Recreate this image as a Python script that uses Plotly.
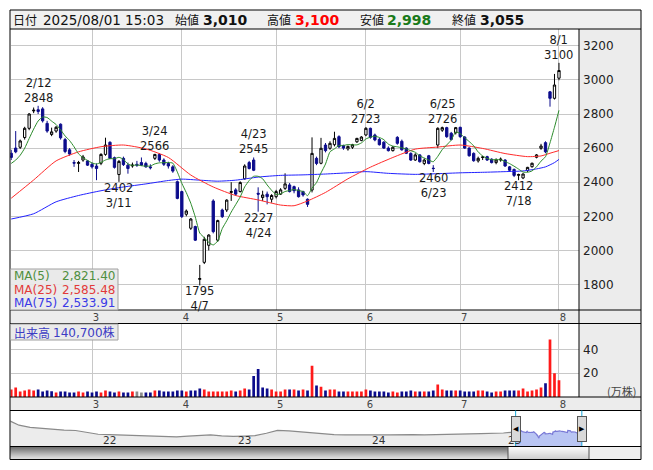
import plotly.graph_objects as go
import pandas as pd

# ---------------- data ----------------
holidays = ["2025-02-11", "2025-02-24", "2025-03-20", "2025-04-29",
            "2025-05-05", "2025-05-06", "2025-07-21"]
dates = [d.strftime("%Y-%m-%d") for d in pd.bdate_range("2025-02-03", "2025-08-01")
         if d.strftime("%Y-%m-%d") not in holidays]

opens = [2570, 2600, 2605, 2662, 2716, 2818, 2825, 2830, 2745, 2680,
         2700, 2740, 2650, 2590, 2515, 2510, 2530, 2525, 2505, 2495,
         2511, 2563, 2634, 2544, 2445, 2540, 2500, 2495, 2505, 2515,
         2510, 2490, 2540, 2562, 2530, 2510, 2490, 2403, 2345, 2212,
         2130, 2140, 1830, 1930, 2030, 2290, 2060, 2237, 2237, 2340,
         2355, 2345, 2420, 2515, 2530, 2335, 2310, 2330, 2300, 2315,
         2330, 2364, 2384, 2374, 2355, 2345, 2300, 2354, 2540, 2511,
         2618, 2599, 2620, 2667, 2615, 2595, 2605, 2637, 2645, 2677,
         2716, 2677, 2651, 2635, 2600, 2585, 2663, 2640, 2600, 2569,
         2530, 2560, 2510, 2555, 2482, 2618, 2705, 2720, 2687, 2690,
         2722, 2665, 2600, 2569, 2525, 2545, 2550, 2535, 2515, 2530,
         2530, 2490, 2475, 2440, 2425, 2468, 2491, 2546, 2599, 2632,
         2930, 2892, 3010]
highs = [2590, 2700, 2650, 2725, 2805, 2838, 2848, 2840, 2760, 2720,
         2730, 2745, 2660, 2600, 2530, 2525, 2560, 2530, 2515, 2510,
         2570, 2661, 2640, 2550, 2530, 2550, 2515, 2515, 2525, 2545,
         2520, 2505, 2566, 2570, 2540, 2520, 2500, 2410, 2350, 2240,
         2190, 2145, 1915, 2080, 2095, 2300, 2180, 2245, 2300, 2400,
         2365, 2405, 2505, 2525, 2545, 2370, 2350, 2345, 2330, 2355,
         2365, 2452, 2395, 2380, 2370, 2350, 2305, 2663, 2550, 2660,
         2630, 2640, 2696, 2675, 2620, 2615, 2625, 2660, 2670, 2723,
         2720, 2685, 2660, 2640, 2610, 2612, 2670, 2650, 2605, 2575,
         2570, 2565, 2540, 2560, 2500, 2722, 2726, 2725, 2695, 2724,
         2725, 2670, 2605, 2575, 2550, 2555, 2555, 2540, 2540, 2545,
         2535, 2495, 2480, 2450, 2452, 2490, 2515, 2565, 2625, 2640,
         2935, 3035, 3100]
lows = [2530, 2570, 2595, 2650, 2705, 2805, 2800, 2750, 2690, 2670,
        2690, 2650, 2570, 2555, 2490, 2460, 2520, 2495, 2480, 2412,
        2500, 2555, 2535, 2480, 2402, 2495, 2450, 2485, 2490, 2495,
        2485, 2475, 2530, 2520, 2495, 2480, 2455, 2300, 2190, 2200,
        2120, 2055, 1795, 1920, 2000, 2100, 2050, 2190, 2225, 2290,
        2320, 2340, 2415, 2475, 2465, 2227, 2290, 2270, 2280, 2305,
        2325, 2355, 2340, 2335, 2310, 2315, 2255, 2340, 2500, 2505,
        2575, 2590, 2610, 2600, 2590, 2585, 2595, 2630, 2640, 2670,
        2655, 2640, 2615, 2595, 2580, 2580, 2620, 2585, 2565, 2525,
        2525, 2515, 2500, 2505, 2460, 2600, 2695, 2660, 2645, 2680,
        2660, 2595, 2550, 2520, 2515, 2530, 2525, 2510, 2505, 2520,
        2490, 2460, 2430, 2412, 2418, 2460, 2485, 2540, 2590, 2570,
        2843, 2885, 2998]
closes = [2545, 2578, 2642, 2716, 2800, 2822, 2815, 2760, 2700, 2695,
          2722, 2660, 2580, 2565, 2512, 2515, 2548, 2500, 2490, 2480,
          2563, 2618, 2540, 2487, 2522, 2503, 2480, 2500, 2500, 2500,
          2490, 2485, 2563, 2530, 2505, 2495, 2465, 2305, 2198, 2231,
          2184, 2060, 1835, 2065, 2090, 2110, 2175, 2198, 2295, 2345,
          2330, 2398, 2495, 2480, 2470, 2330, 2325, 2315, 2322, 2345,
          2355, 2390, 2345, 2350, 2315, 2325, 2270, 2569, 2510, 2599,
          2585, 2628, 2657, 2608, 2600, 2610, 2620, 2657, 2665, 2716,
          2663, 2648, 2620, 2600, 2585, 2605, 2628, 2590, 2570, 2530,
          2560, 2520, 2530, 2510, 2480, 2716, 2720, 2667, 2651, 2720,
          2667, 2600, 2555, 2526, 2540, 2548, 2530, 2515, 2530, 2535,
          2495, 2470, 2440, 2445, 2448, 2487, 2511, 2560, 2612, 2578,
          2892, 2970, 3055]
volumes = [6.3, 8.0, 4.6, 5.5, 6.3, 5.5, 6.3, 4.6, 5.5, 4.9,
           3.7, 4.6, 4.6, 3.7, 3.7, 4.6, 3.7, 4.6, 3.7, 4.6,
           3.7, 5.5, 4.6, 3.7, 4.6, 3.7, 3.7, 4.6, 4.6, 3.7,
           3.7, 3.7, 5.5, 5.5, 4.6, 4.6, 4.6, 5.5, 5.5, 4.6,
           5.5, 5.5, 7.2, 6.3, 4.6, 4.6, 4.6, 4.6, 4.6, 5.5,
           4.6, 5.5, 7.2, 6.3, 17.8, 23.6, 8.0, 7.2, 6.3, 4.6,
           4.6, 6.3, 6.3, 6.3, 5.5, 6.3, 5.5, 26.4, 9.8, 8.6,
           5.5, 6.3, 6.3, 4.6, 4.6, 4.6, 4.6, 4.6, 4.6, 6.3,
           5.5, 4.6, 4.6, 4.6, 3.7, 4.6, 3.7, 4.6, 4.6, 5.5,
           4.6, 4.6, 4.6, 4.6, 5.5, 10.6, 6.3, 5.5, 5.5, 5.5,
           5.5, 4.6, 4.6, 4.6, 5.5, 5.5, 4.6, 3.7, 4.6, 4.6,
           5.5, 5.5, 5.5, 5.5, 7.2, 4.6, 5.5, 6.3, 8.0, 11.5,
           48.5, 20.0, 14.07]  # 万株
prior_closes = [2480, 2500, 2510, 2515]  # closes before the window (MA5 warm-up)

ma25_idx = [0, 5, 10, 15, 20, 25, 30, 35, 40, 45, 50, 55, 60, 63, 66, 70, 75,
            80, 85, 90, 95, 100, 105, 110, 115, 118, 120, 122]
ma25_val = [2306, 2413, 2525, 2578, 2608, 2618, 2595, 2545, 2442, 2372, 2322,
            2296, 2266, 2262, 2290, 2340, 2420, 2488, 2545, 2594, 2606, 2618,
            2598, 2568, 2550, 2554, 2570, 2585.48]
ma75_idx = [0, 5, 10, 15, 20, 25, 30, 35, 38, 42, 46, 50, 55, 60, 65, 70, 75,
            79, 84, 90, 95, 100, 105, 110, 114, 117, 119, 121, 122]
ma75_val = [2184, 2215, 2285, 2322, 2350, 2372, 2390, 2410, 2418, 2412, 2406,
            2412, 2430, 2440, 2443, 2448, 2455, 2462, 2452, 2446, 2450, 2455,
            2458, 2462, 2466, 2478, 2490, 2515, 2533.91]

nav_months = ["2021-05", "2021-06", "2021-07", "2021-08", "2021-09", "2021-10",
              "2021-11", "2021-12", "2022-01", "2022-02", "2022-03", "2022-04",
              "2022-05", "2022-06", "2022-07", "2022-08", "2022-09", "2022-10",
              "2022-11", "2022-12", "2023-01", "2023-02", "2023-03", "2023-04",
              "2023-05", "2023-06", "2023-07", "2023-08", "2023-09", "2023-10",
              "2023-11", "2023-12", "2024-01", "2024-02", "2024-03", "2024-04",
              "2024-05", "2024-06", "2024-07", "2024-08", "2024-09", "2024-10",
              "2024-11", "2024-12", "2025-01"]
nav_values = [3900, 3300, 3050, 2950, 2800, 2750, 2700, 2500, 2280, 2230, 2200,
              2160, 2130, 2100, 2040, 1990, 2080, 2160, 2210, 2100, 2040, 2070,
              2120, 2390, 2720, 2650, 2550, 2390, 2270, 2240, 2210, 2180, 2160,
              2200, 2220, 2270, 2240, 2215, 2260, 2240, 2280, 2330, 2360, 2380,
              2420]
nav_years = ["2022", "2023", "2024", "2025"]

peaks = ["2025-02-12", "2025-03-24", "2025-04-23", "2025-06-02", "2025-06-25", "2025-08-01"]
troughs = ["2025-03-11", "2025-04-07", "2025-04-24", "2025-06-23", "2025-07-18"]
quote_time = "15:03"

# ---------------- derived ----------------
n = len(dates)
idx = list(range(n))
ext = prior_closes + closes
ma5 = [sum(ext[i:i + 5]) / 5 for i in range(n)]
month_idx = [i for i in range(1, n) if dates[i][5:7] != dates[i - 1][5:7]]
month_txt = [str(int(dates[i][5:7])) for i in month_idx]
prev = [prior_closes[-1]] + closes[:-1]
vcol = ["#ff1a1a" if c > p else ("#0c0c8c" if c < p else "#8c8c8c") for c, p in zip(closes, prev)]

# ---------------- geometry (page pixels -> paper) ----------------
W, H = 637, 454
OX, OY = 8, 8


def px(x):
    return (x - OX) / W


def py(y):
    return 1 - (y - OY) / H


L, R, DIV = 10, 641, 579
FONT = "DejaVu Sans, Noto Sans CJK JP, sans-serif"
JFONT = "Noto Sans CJK JP, DejaVu Sans, sans-serif"
GRID = "#c8c8c8"
PANEL = "#ececec"

x_lo = (10.5 - 11.2) / 4.49
x_hi = (579 - 11.2) / 4.49

fig = go.Figure()
fig.add_trace(go.Candlestick(
    x=idx, open=opens, high=highs, low=lows, close=closes,
    increasing=dict(line=dict(color="#000000", width=1), fillcolor="#ffffff"),
    decreasing=dict(line=dict(color="#0c0c8c", width=1), fillcolor="#0c0c8c"),
    whiskerwidth=0, xaxis="x", yaxis="y", showlegend=False, hoverinfo="skip"))
fig.add_trace(go.Scatter(x=ma75_idx, y=ma75_val, mode="lines", line=dict(color="#2222ff", width=1, shape="spline", smoothing=0.6),
                         xaxis="x", yaxis="y", showlegend=False, hoverinfo="skip"))
fig.add_trace(go.Scatter(x=ma25_idx, y=ma25_val, mode="lines", line=dict(color="#ff2a2a", width=1, shape="spline", smoothing=0.6),
                         xaxis="x", yaxis="y", showlegend=False, hoverinfo="skip"))
fig.add_trace(go.Scatter(x=idx, y=ma5, mode="lines", line=dict(color="#2a8a2a", width=1, shape="spline", smoothing=0.5),
                         xaxis="x", yaxis="y", showlegend=False, hoverinfo="skip"))
fig.add_trace(go.Bar(x=idx, y=volumes, marker=dict(color=vcol, line=dict(width=0)), width=0.6,
                     xaxis="x2", yaxis="y2", showlegend=False, hoverinfo="skip"))

# navigator
nav_x_pre = [m + "-01" for m in nav_months] + [dates[0]]
nav_y_pre = nav_values + [closes[0]]
fig.add_trace(go.Scatter(x=nav_x_pre, y=nav_y_pre, mode="lines", line=dict(color="#8a8a8a", width=1.2),
                         fill="tozeroy", fillcolor="#ececec", xaxis="x3", yaxis="y3",
                         showlegend=False, hoverinfo="skip"))
fig.add_trace(go.Scatter(x=dates, y=closes, mode="lines", line=dict(color="#7a7ad6", width=1.2),
                         fill="tozeroy", fillcolor="#b9c5f3", xaxis="x3", yaxis="y3",
                         showlegend=False, hoverinfo="skip"))

shapes = []


def rect(x0, y0, x1, y1, fill=None, line=None, lw=1, layer="below"):
    shapes.append(dict(type="rect", xref="paper", yref="paper", x0=px(x0), x1=px(x1), y0=py(y1), y1=py(y0),
                       fillcolor=fill if fill else "rgba(0,0,0,0)",
                       line=dict(color=line if line else "rgba(0,0,0,0)", width=lw if line else 0), layer=layer))


def hline(y, x0=L, x1=R, color="#000", w=1):
    shapes.append(dict(type="line", xref="paper", yref="paper", x0=px(x0), x1=px(x1), y0=py(y), y1=py(y),
                       line=dict(color=color, width=w), layer="above"))


def vline(x, y0, y1, color="#000", w=1):
    shapes.append(dict(type="line", xref="paper", yref="paper", x0=px(x), x1=px(x), y0=py(y0), y1=py(y1),
                       line=dict(color=color, width=w), layer="above"))


# panels
rect(L, 10, R, 29, fill="#f0f0f0")
rect(DIV, 29, R, 310, fill=PANEL)
rect(L, 310, R, 323.5, fill=PANEL)
rect(DIV, 323.5, R, 397, fill=PANEL)
rect(L, 397, R, 410.5, fill=PANEL)
# scrollbar gradient
dark = ["#3a3a3a", "#464646", "#545454", "#626262", "#717171", "#808080", "#8e8e8e",
        "#9c9c9c", "#aaaaaa", "#b6b6b6", "#c2c2c2", "#cccccc", "#d4d4d4"]
light = ["#fbfbfb", "#f6f6f6", "#f1f1f1", "#ececec", "#e7e7e7", "#e2e2e2", "#dddddd",
         "#d8d8d8", "#d3d3d3", "#cecece", "#c9c9c9", "#c4c4c4", "#bfbfbf"]
for k in range(13):
    rect(L, 446.5 + k, 508, 447.5 + k, fill=dark[k], layer="above")
    rect(508, 446.5 + k, 589, 447.5 + k, fill=light[k], layer="above")
rect(589, 446.5, R, 459.5, fill="#eeeeee", layer="above")
rect(508, 446.5, 589, 459.5, line="#555555", layer="above")

# borders
rect(L, 10, R, 459.5, line="#000000", layer="above")
hline(29)
hline(310)
hline(323.5)
hline(397)
hline(410.5)
hline(446.5)
vline(DIV, 29, 310)
vline(DIV, 323.5, 397)
vline(DIV, 310, 323.5, color="#000")

# legend boxes
rect(10.5, 269, 118, 310, fill="rgba(232,232,232,0.92)", line="#a0a0a0", layer="above")
rect(10.5, 324, 118, 340, fill="rgba(232,232,232,0.92)", line="#a0a0a0", layer="above")

# navigator selection edges
for d in (dates[0], dates[-1]):
    shapes.append(dict(type="line", xref="x3", yref="paper", x0=d, x1=d, y0=py(446), y1=py(410.5),
                       line=dict(color="#19a7d8", width=1), layer="above"))

ann = []


def text(x, y, s, size=12, color="#222", xanchor="left", yanchor="middle", family=FONT, bold=False):
    ann.append(dict(xref="paper", yref="paper", x=px(x), y=py(y), text=("<b>%s</b>" % s) if bold else s,
                    showarrow=False, xanchor=xanchor, yanchor=yanchor,
                    font=dict(size=size, color=color, family=family)))


# header
last = n - 1
hy = 19.5
text(11, hy, "日付", 12, "#111", family=JFONT)
text(41, hy, dates[last].replace("-", "/") + " " + quote_time, 13.5, "#111")
text(173, hy, "始値", 12, "#111", family=JFONT)
text(201, hy, f"{opens[last]:,}", 14, "#111", bold=True)
text(265, hy, "高値", 12, "#111", family=JFONT)
text(293, hy, f"{highs[last]:,}", 14, "#ff0000", bold=True)
text(358, hy, "安値", 12, "#111", family=JFONT)
text(385, hy, f"{lows[last]:,}", 14, "#1a7a1a", bold=True)
text(450, hy, "終値", 12, "#111", family=JFONT)
text(478, hy, f"{closes[last]:,}", 14, "#111", bold=True)

# MA legend
rows = [("MA(5)", ma5[-1], "#4f8f3f"), ("MA(25)", ma25_val[-1], "#e23a3a"), ("MA(75)", ma75_val[-1], "#3a3ae6")]
for k, (lab, val, col) in enumerate(rows):
    yy = 275.7 + 13.8 * k
    text(11.5, yy, lab, 12, col)
    text(117.5, yy, f"{val:,.2f}", 12, col, xanchor="right")

# volume label
text(12, 332, "出来高", 12, "#3c3cc4", family=JFONT)
text(117.5, 332, f"{round(volumes[-1] * 10000):,}株", 12, "#3c3cc4", xanchor="right")
text(638, 390.5, "(万株)", 11, "#444", xanchor="right", family=JFONT)

# extremes
for d in peaks:
    i = dates.index(d)
    ann.append(dict(xref="x", yref="y", x=i, y=highs[i], yanchor="bottom", yshift=0, showarrow=False,
                    text=f"{int(d[5:7])}/{int(d[8:10])}<br>{highs[i]}", borderpad=0,
                    font=dict(size=11.5, color="#1a1a1a", family=FONT)))
for d in troughs:
    i = dates.index(d)
    ann.append(dict(xref="x", yref="y", x=i, y=lows[i], yanchor="top", yshift=2, showarrow=False,
                    text=f"{lows[i]}<br>{int(d[5:7])}/{int(d[8:10])}", borderpad=0,
                    font=dict(size=11.5, color="#1a1a1a", family=FONT)))

# navigator year labels
for yv in nav_years:
    ann.append(dict(xref="x3", yref="paper", x=yv + "-01-01", y=py(439.5), xshift=11, showarrow=False,
                    text=yv[2:], font=dict(size=10.5, color="#333", family=FONT), yanchor="middle"))
# navigator handles
for d, arrow in ((dates[0], "◀"), (dates[-1], "▶")):
    ann.append(dict(xref="x3", yref="paper", x=d, y=py(428.5), showarrow=False, text=arrow,
                    font=dict(size=7, color="#000"), bgcolor="#d9d9d9", bordercolor="#555555",
                    borderwidth=1, borderpad=0, width=8, height=24, xanchor="center", yanchor="middle"))

axis_common = dict(showgrid=True, gridcolor=GRID, gridwidth=1, zeroline=False, showline=False, ticks="")
fig.update_layout(
    width=W, height=H, margin=dict(l=0, r=0, t=0, b=0, pad=0),
    paper_bgcolor="#ffffff", plot_bgcolor="rgba(0,0,0,0)",
    font=dict(family=FONT, size=12, color="#222"),
    showlegend=False, boxgap=0.27, bargap=0.4,
    xaxis=dict(domain=[px(10.5), px(DIV)], range=[x_lo, x_hi], tickvals=month_idx, ticktext=month_txt,
               tickfont=dict(size=10, color="#444"), rangeslider=dict(visible=False), anchor="y",
               ticklabelshift=4, ticklabelstandoff=0, **axis_common),
    yaxis=dict(domain=[py(310), py(29)], range=[1650.5, 3298.5], side="right", anchor="x",
               tickvals=list(range(1800, 3201, 200)), tickfont=dict(size=12, color="#222"),
               ticklabelstandoff=3, **axis_common),
    xaxis2=dict(domain=[px(10.5), px(DIV)], range=[x_lo, x_hi], tickvals=month_idx, ticktext=month_txt,
                tickfont=dict(size=10, color="#444"), anchor="y2", ticklabelshift=4, ticklabelstandoff=0,
                **axis_common),
    yaxis2=dict(domain=[py(397), py(323.5)], range=[0, 62], side="right", anchor="x2",
                tickvals=[20, 40], tickfont=dict(size=12, color="#222"), ticklabelstandoff=3, **axis_common),
    xaxis3=dict(domain=[px(10.5), px(R)], type="date", range=["2021-05-09", "2026-01-08"],
                showgrid=False, showticklabels=False, zeroline=False, anchor="y3"),
    yaxis3=dict(domain=[py(446.5), py(410.5)], range=[904, 4951], visible=False, anchor="x3"),
    shapes=shapes, annotations=ann,
)
fig.write_html("out.html", config={"displayModeBar": False})
